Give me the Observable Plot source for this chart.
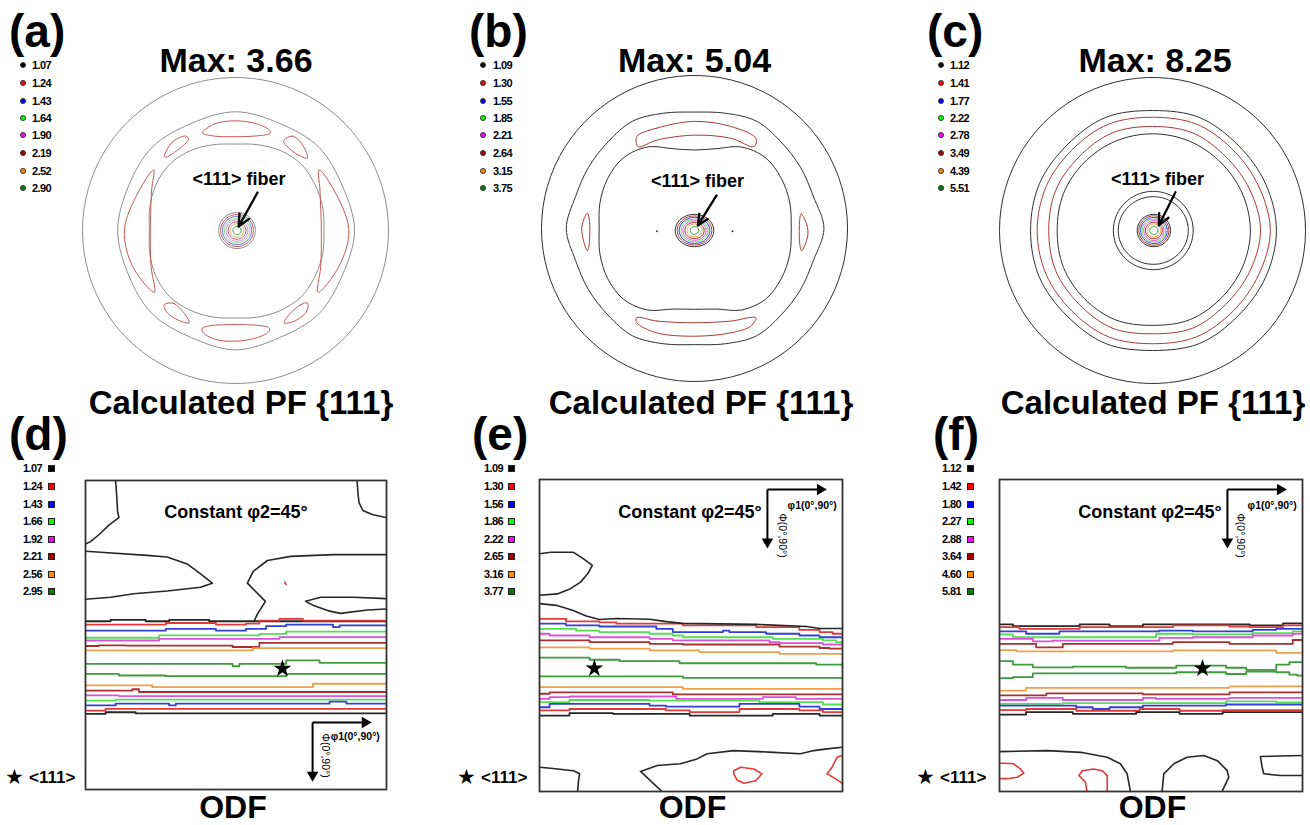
<!DOCTYPE html>
<html><head><meta charset="utf-8">
<script src="https://cdn.jsdelivr.net/npm/d3@7"></script>
<script src="https://cdn.jsdelivr.net/npm/@observablehq/plot@0.6"></script>
<style>
body{margin:0;background:#fff}
#fig{position:relative;width:1310px;height:825px;overflow:hidden;background:#fff}
#fig svg{position:absolute;background:transparent}
</style></head><body><div id="fig"></div>
<script>
// ---------------- DATA ----------------
const PANEL_LETTERS = ["(a)","(b)","(c)","(d)","(e)","(f)"];
const MAX_VALUES = ["3.66","5.04","8.25"];
const PF_TITLE = "Calculated PF {111}";
const ODF_TITLE = "ODF";
const FIBER_LABEL = "<111> fiber";
const SECTION_LABEL = "Constant φ2=45°";
const PHI1_LABEL = "φ1(0°,90°)";
const PHI_LABEL = "Φ(0°,90°)";
const STAR_LABEL = "<111>";
const PF_LEVELS_A = ["1.07","1.24","1.43","1.64","1.90","2.19","2.52","2.90"];
const PF_LEVELS_B = ["1.09","1.30","1.55","1.85","2.21","2.64","3.15","3.75"];
const PF_LEVELS_C = ["1.12","1.41","1.77","2.22","2.78","3.49","4.39","5.51"];
const ODF_LEVELS_D = ["1.07","1.24","1.43","1.66","1.92","2.21","2.56","2.95"];
const ODF_LEVELS_E = ["1.09","1.30","1.56","1.86","2.22","2.65","3.16","3.77"];
const ODF_LEVELS_F = ["1.12","1.42","1.80","2.27","2.88","3.64","4.60","5.81"];
const LEGEND_COLORS = ["#000000","#ff0000","#0000ff","#00ff00","#ff00ff","#a00000","#ff8c00","#008000"];
const LINE_COLORS = ["#262626","#e03a3a","#3040d8","#52e052","#dc50dc","#a83030","#f0a048","#3c9c3c"];
const PF_A_COLORS = ["#8e8e8e","#c45858","#6a74d8","#80e080","#df86df","#b06060","#e0b070","#3c9c3c"];
const PF_BC_COLORS = ["#303030","#a83a3a","#3040d8","#52e052","#dc50dc","#a83030","#f0a048","#3c9c3c"];

// Pole figures: contour radii (unit = projection radius), angles evenly spaced from east, counter-clockwise
const PF_A_OUTER = [0.778,0.757,0.77,0.757,0.776,0.757,0.77,0.757,0.77,0.757,0.77,0.757,0.78,0.757,0.77,0.757];
const PF_A_INNER = [0.578,0.59,0.60,0.61,0.60,0.58,0.565,0.58,0.60,0.61,0.60,0.58,0.563,0.58,0.60,0.61,0.60,0.585,0.572,0.585,0.60,0.61,0.60,0.59];
const PF_A_ISLANDS = [
  [[-0.215,0.643],[-0.139,0.696],[-0.009,0.717],[0.143,0.696],[0.226,0.652],[0.226,0.635],[0.122,0.617],[-0.009,0.613],[-0.139,0.617],[-0.215,0.635]],
  [[-0.215,-0.637],[-0.009,-0.615],[0.22,-0.637],[0.22,-0.659],[0.143,-0.70],[-0.009,-0.724],[-0.139,-0.709],[-0.215,-0.663]],
  [[-0.535,0.396],[-0.639,0.243],[-0.726,0.004],[-0.672,-0.235],[-0.530,-0.404],[-0.552,-0.235],[-0.557,0.004],[-0.548,0.265]],
  [[0.546,0.396],[0.643,0.265],[0.741,0.004],[0.676,-0.235],[0.539,-0.404],[0.557,-0.235],[0.561,0.004],[0.552,0.265]],
  [[-0.465,0.483],[-0.411,0.580],[-0.324,0.617],[-0.307,0.596],[-0.378,0.526],[-0.457,0.478]],
  [[0.317,0.591],[0.372,0.617],[0.437,0.561],[0.470,0.474],[0.426,0.485],[0.361,0.528],[0.317,0.574]],
  [[-0.465,-0.485],[-0.411,-0.474],[-0.346,-0.528],[-0.302,-0.604],[-0.357,-0.593],[-0.433,-0.550],[-0.465,-0.507]],
  [[0.470,-0.474],[0.426,-0.485],[0.361,-0.539],[0.317,-0.604],[0.383,-0.593],[0.448,-0.550],[0.470,-0.517]]
];
const PF_A_BLOB = [[0.12,0.118],[0.107,0.105],[0.095,0.093],[0.083,0.081],[0.071,0.07],[0.058,0.057],[0.045,0.044],[0.027,0.026]];

const PF_B_OUTER = [0.846,0.805,0.80,0.80,0.81,0.78,0.761,0.78,0.81,0.80,0.80,0.805,0.838,0.805,0.80,0.80,0.81,0.78,0.759,0.78,0.81,0.80,0.80,0.805];
const PF_B_INNER = [0.632,0.645,0.655,0.655,0.615,0.54,0.513,0.54,0.615,0.655,0.655,0.64,0.623,0.64,0.655,0.655,0.615,0.545,0.528,0.545,0.615,0.655,0.655,0.645];
const PF_B_ISLANDS = [
  [[-0.377,0.601],[-0.246,0.656],[0,0.70],[0.237,0.667],[0.401,0.590],[0.390,0.535],[0.237,0.590],[0,0.610],[-0.246,0.578],[-0.368,0.535]],
  [[-0.377,-0.583],[-0.246,-0.605],[0,-0.616],[0.237,-0.605],[0.401,-0.583],[0.368,-0.638],[0.237,-0.682],[0,-0.704],[-0.246,-0.682],[-0.377,-0.616]],
  [[-0.70,0.10],[-0.735,0.02],[-0.73,-0.06],[-0.70,-0.145],[-0.688,-0.10],[-0.688,0.06]],
  [[0.697,0.096],[0.735,0.02],[0.74,-0.05],[0.70,-0.145],[0.688,-0.10],[0.688,0.06]]
];
const PF_B_SPECKS = [[-0.246,-0.018],[0.248,-0.018]];
const PF_B_BLOB = [[0.126,0.106],[0.113,0.095],[0.100,0.085],[0.088,0.074],[0.076,0.064],[0.063,0.053],[0.049,0.042],[0.028,0.025]];

const PF_C_RINGS = [
  {lv:0, r:[0.81,0.80,0.79,0.80,0.784,0.80,0.79,0.80,0.797,0.80,0.79,0.80,0.784,0.80,0.79,0.80]},
  {lv:1, r:[0.77,0.752,0.745,0.752,0.74,0.752,0.745,0.752,0.754,0.752,0.745,0.752,0.74,0.752,0.745,0.752]},
  {lv:1, r:[0.706,0.69,0.68,0.69,0.68,0.69,0.68,0.685,0.678,0.685,0.68,0.69,0.675,0.69,0.68,0.69]},
  {lv:0, r:[0.64,0.635,0.63,0.632,0.632,0.632,0.63,0.63,0.623,0.63,0.63,0.632,0.62,0.632,0.63,0.635]}
];
const PF_C_SMALL = [[0.261,0.256],[0.229,0.221]];
const PF_C_BLOB = [[0.109,0.106],[0.098,0.096],[0.087,0.085],[0.077,0.075],[0.066,0.065],[0.055,0.054],[0.044,0.043],[0.027,0.026]];

// ODF sections: [phi1, Phi] in degrees; step lines hold the value from each phi1 onward
const ODF_D_STEPS = [
  {lv:0, pts:[[0,41.0],[7.5,40.6],[18,41.0],[25,40.6],[37,41.0],[50.4,41.0]]},
  {lv:1, pts:[[0,42.0],[24,41.5],[39,42.0],[48,41.7],[52,40.8],[58,40.3],[65,40.8]]},
  {lv:2, pts:[[0,43.7],[24,43.2],[39,43.7],[48,43.2],[54,42.4],[60,42.0],[74,42.7],[76,42.2]]},
  {lv:3, pts:[[0,45.8],[22,45.1],[52,44.7],[60,44.0]]},
  {lv:4, pts:[[0,46.6],[22,46.1],[58,45.6]]},
  {lv:5, pts:[[0,48.2],[4,48.0],[12,48.1],[44,48.5],[52,47.3]]},
  {lv:6, pts:[[0,49.5],[50,48.8]]},
  {lv:7, pts:[[0,53.4],[44,54.1],[46,53.4],[60,52.4],[70,53.1]]},
  {lv:7, pts:[[0,56.3],[10,56.8],[24,57.0],[60,56.3]]},
  {lv:6, pts:[[0,59.7],[20,60.2],[68,59.2]]},
  {lv:5, pts:[[0,61.2],[14,60.8],[16,61.6]]},
  {lv:4, pts:[[0,62.6],[10,62.8]]},
  {lv:3, pts:[[0,64.1],[9,63.8]]},
  {lv:2, pts:[[0,65.5],[9,65.0],[25,65.5],[27,65.0],[73,64.4],[78,65.0]]},
  {lv:1, pts:[[0,67.0],[6,66.5]]},
  {lv:0, pts:[[0,68.0],[6,67.5],[15,67.8]]}
];
const ODF_D_PATHS = [
  {lv:0, pts:[[50.4,41.0],[51.4,38.9],[53.8,35.2],[48.4,29.9],[50.2,26.4],[54.4,23.3],[61.3,22.1],[74.2,21.6],[90,21.6]]},
  {lv:0, pts:[[0,20.6],[4.5,20.9],[18.4,21.8],[24.4,22.3],[30.4,24.3],[34.4,27.2],[37.9,29.9],[34.4,31.1],[24.4,32.2],[14.4,33.0],[7.5,34.0],[0,34.6]]},
  {lv:0, pts:[[90,34.4],[80.1,34.0],[70.3,34.0],[65.8,35.2],[68.2,36.4],[72.4,37.9],[76.2,38.7],[84.3,37.7],[90,37.4]]},
  {lv:0, pts:[[9.0,0],[9.3,4],[9.6,9],[10,10.8],[7,13],[4,15.8],[1.5,17.8],[0,18.5]]},
  {lv:0, pts:[[81.2,0],[81.5,4],[81.8,6.5],[83,8.8],[86,10],[90,10.8]]},
  {lv:1, pts:[[59.6,29.6],[60.0,30.3]]}
];
const ODF_D_STAR = [58.9,54.8];

const ODF_E_STEPS = [
  {lv:1, pts:[[0,40.2],[7.9,40.9],[17.8,41.2],[22.8,41.6],[42.6,42.1],[64.4,42.6],[77.2,43.4],[83.2,44.0],[87.1,44.5]]},
  {lv:2, pts:[[0,41.6],[7.9,42.1],[17.8,42.4],[34.7,43.1],[39.6,44.0],[54.5,43.6],[56.4,44.0],[67.3,44.5],[77.2,45.0],[83.2,45.5]]},
  {lv:3, pts:[[0,43.1],[10.9,43.6],[17.8,44.0],[32.7,44.5],[39.6,45.0],[42.6,45.5],[69.3,46.0],[84.2,46.4],[88.1,46.9]]},
  {lv:4, pts:[[0,44.5],[3,45.0],[14.9,45.5],[32.7,46.0],[39.6,46.4],[68.3,46.9],[71.3,47.2],[84.2,47.6]]},
  {lv:5, pts:[[0,46.4],[14.9,46.9],[32.7,47.4],[42.6,47.6],[71.3,48.2],[83.2,48.6],[86.1,48.8]]},
  {lv:6, pts:[[0,48.4],[14.9,48.8],[32.7,49.3],[47.5,49.8],[71.3,50.3]]},
  {lv:7, pts:[[0,51.4],[14.9,52.0],[23.8,52.4],[41.6,53.0],[82.2,53.4]]},
  {lv:7, pts:[[0,56.8],[42.6,57.2]]},
  {lv:6, pts:[[0,59.9],[42.6,60.4]]},
  {lv:5, pts:[[0,61.8],[3,61.4],[39.6,62.0]]},
  {lv:4, pts:[[0,63.3],[3,62.8],[8.9,62.6],[40.6,63.3],[66.3,62.8],[76.2,63.3]]},
  {lv:3, pts:[[0,64.2],[8.9,63.6],[32.7,63.8],[65.3,64.2],[84.2,64.9]]},
  {lv:2, pts:[[0,65.7],[3,64.7],[32.7,65.2],[37.6,65.5],[59.4,64.7],[77.2,65.5],[83.2,66.2]]},
  {lv:1, pts:[[0,66.6],[8.9,66.2],[37.6,66.6],[44.6,67.1],[59.4,66.2],[77.2,66.6],[84.2,67.1]]},
  {lv:0, pts:[[0,68.1],[8.9,67.4],[21.8,67.6],[44.6,68.1],[69.3,67.6],[83.2,68.1]]}
];
const ODF_E_PATHS = [
  {lv:0, pts:[[0,35.8],[5,36.3],[9.8,37.7],[13.9,39.4],[17.8,40.4],[22.9,40.1],[32.7,40.3],[37.7,41.0],[42.5,41.5],[64.4,41.8],[79.3,42.4],[83.2,43.0],[90,43.0]]},
  {lv:0, pts:[[0,21.4],[3.3,21.0],[10.1,21.0],[13.1,22.9],[15.7,24.8],[14.3,27.2],[12.2,29.6],[9.2,31.5],[5.3,33.0],[0,33.4]]},
  {lv:0, pts:[[0,83.0],[3.3,83.3],[10.1,84.0],[11.9,84.9],[11.6,86.9],[11.3,90]]},
  {lv:0, pts:[[36.4,90],[30.0,84.2],[35.0,82.5],[41.9,82.0],[46.8,80.6],[49.8,79.1],[57.7,78.2],[69.6,78.7],[77.5,79.1],[81.5,78.2],[85.4,77.7],[90,77.2]]},
  {lv:1, pts:[[57.7,84.0],[59.7,83.0],[63.7,83.5],[66.1,84.9],[64.2,86.9],[60.7,87.6],[58.7,86.7],[57.7,84.9],[57.7,84.0]]},
  {lv:1, pts:[[90,79.6],[88.4,80.1],[86.9,83.0],[85.4,84.9],[87.9,86.3],[89.4,87.3],[90,87.8]]}
];
const ODF_E_STAR = [16.3,54.5];

const ODF_F_STEPS = [
  {lv:0, pts:[[0,41.8],[4,42.3],[23.8,41.8],[32.7,42.3],[42.6,41.8],[74.3,42.1],[84.2,41.5]]},
  {lv:1, pts:[[0,42.6],[5.9,43.1],[23.8,42.6],[51.5,42.1],[68.3,42.4],[74.3,42.6],[84.2,42.1]]},
  {lv:2, pts:[[0,43.8],[7.9,44.5],[17.8,43.8],[47.5,43.6],[57.4,43.8],[75.2,43.4],[82.2,43.1]]},
  {lv:3, pts:[[0,44.7],[4,45.5],[46.5,44.5],[57.4,44.7],[75.2,44.3],[87.1,43.8]]},
  {lv:4, pts:[[0,46.0],[9.9,46.7],[15.8,46.5],[47.5,45.7],[57.4,45.5],[75.2,45.0],[87.1,44.5]]},
  {lv:5, pts:[[0,47.4],[10.9,48.4],[18.8,47.4],[51.5,46.9],[68.3,47.4],[87.1,46.3]]},
  {lv:6, pts:[[0,49.2],[5,49.6],[51.5,49.3],[82.2,50.0]]},
  {lv:7, pts:[[0,52.4],[4,53.4],[9.9,54.2],[21.8,54.0],[37.6,54.3],[52.5,53.7],[67.3,54.3],[73.3,54.9],[82.2,53.4],[86.1,52.7]]},
  {lv:7, pts:[[0,57.3],[4,57.0],[9.9,55.9],[52.5,55.6],[67.3,56.1],[73.3,55.4],[82.2,55.6],[86.1,56.3],[88.5,56.6]]},
  {lv:6, pts:[[0,60.9],[7.9,60.1],[68.3,59.7]]},
  {lv:5, pts:[[0,62.3],[13.9,61.7],[42.6,62.0],[68.3,61.4]]},
  {lv:4, pts:[[0,63.6],[7.9,63.0],[18.8,63.6],[42.6,63.0],[46.5,63.3],[68.3,63.0]]},
  {lv:3, pts:[[0,64.7],[18.8,64.5],[67.3,64.0],[82.2,64.3]]},
  {lv:2, pts:[[0,65.2],[22.8,65.7],[27.7,66.2],[32.7,65.7],[42.6,65.2],[67.3,64.9]]},
  {lv:1, pts:[[0,66.5],[7.9,66.2],[22.8,66.7],[41.6,66.2],[53.5,66.7],[66.3,66.5]]},
  {lv:0, pts:[[0,67.8],[7.9,67.1],[21.8,67.6],[40.6,67.1],[53.5,67.6],[66.3,67.1]]}
];
const ODF_F_PATHS = [
  {lv:0, pts:[[0,78.5],[14.2,78.2],[24.1,78.7],[32.0,80.1],[35.9,82.0],[37.9,84.9],[38.9,90]]},
  {lv:1, pts:[[0,81.8],[4.2,82.0],[6.2,83.5],[7.2,84.7],[5.3,85.9],[2.3,86.3],[0,86.3]]},
  {lv:1, pts:[[26,90],[25.5,87.3],[23.6,85.4],[24.6,84.0],[28.0,83.5],[30.5,84.0],[32.0,85.4],[32.0,90]]},
  {lv:0, pts:[[48.3,90],[48.8,84.9],[51.8,82.0],[55.7,80.1],[60.7,79.6],[64.7,81.1],[67.6,83.9],[68.1,85.9],[66.1,90]]},
  {lv:0, pts:[[90,79.6],[77.5,79.9],[78.0,83.0],[78.5,84.9],[83.5,85.4],[90,85.4]]}
];
const ODF_F_STAR = [60.3,54.5];

// ---------------- LAYOUT ----------------
const W = 1310;
const FONT = '"Liberation Sans", Arial, Helvetica, sans-serif';
const fig = document.getElementById("fig");

function txt(s, x, base, size, anchor = "start", opt = {}) {
  const d = document.createElement("div");
  d.textContent = s;
  Object.assign(d.style, {position:"absolute", whiteSpace:"nowrap", fontSize:size+"px", lineHeight:"1",
    fontWeight: opt.weight || "bold", fontFamily: opt.family || FONT, color:"#000",
    letterSpacing: opt.ls || "normal", top:(base - (opt.asc || 0.8465) * size) + "px"});
  if (anchor === "start") d.style.left = x + "px";
  else if (anchor === "middle") { d.style.left = x + "px"; d.style.transform = "translateX(-50%)"; }
  else d.style.right = (W - x) + "px";
  fig.appendChild(d);
}
function box(x, y, w, h, fill, border, radius) {
  const d = document.createElement("div");
  Object.assign(d.style, {position:"absolute", left:x+"px", top:y+"px", width:w+"px", height:h+"px",
    background:fill, border:`1px solid ${border}`, borderRadius:radius || "0", boxSizing:"border-box"});
  fig.appendChild(d);
}
function put(svg, left, top) { svg.style.left = left + "px"; svg.style.top = top + "px"; fig.appendChild(svg); }

const ring = (radii, c = [0,0]) => radii.map((r, i) => { const a = i * 2 * Math.PI / radii.length; return [c[0] + r*Math.cos(a), c[1] + r*Math.sin(a)]; });
const ellipse = ([rx, ry], c = [0,0], step = 10) => d3.range(0, 360, step).map(t => [c[0] + rx*Math.cos(t*Math.PI/180), c[1] + ry*Math.sin(t*Math.PI/180)]);
const X = d => d[0], Y = d => d[1];

function pfPlot(p) {
  const D = 165 / 153, col = p.colors;
  const marks = [
    Plot.line(ellipse([1,1],[0,0],4), {x:X, y:Y, curve:"linear-closed", stroke:col[0], strokeWidth:1}),
    ...p.rings.map(b => Plot.line(ring(b.r, b.c), {x:X, y:Y, curve:"catmull-rom-closed", stroke:col[b.lv], strokeWidth:1})),
    ...p.ellipses.map(e => Plot.line(ellipse(e.r, e.c), {x:X, y:Y, curve:"catmull-rom-closed", stroke:col[e.lv], strokeWidth:1})),
    ...p.islands.map(is => Plot.line(is, {x:X, y:Y, curve:"catmull-rom-closed", stroke:col[1], strokeWidth:1})),
    ...p.blob.map((r, i) => Plot.line(ellipse(r, p.blobC), {x:X, y:Y, curve:"catmull-rom-closed", stroke:col[i], strokeWidth:1})),
    Plot.dot(p.specks || [], {x:X, y:Y, r:0.9, fill:col[0], stroke:null}),
    Plot.text([p.label], {x:"x", y:"y", text:"t", fontSize:18, fontWeight:"bold", fontFamily:FONT, fill:"black"}),
    Plot.arrow([p.arrow], {x1:"x1", y1:"y1", x2:"x2", y2:"y2", stroke:"black", strokeWidth:2.3, headLength:10, headAngle:50})
  ];
  return Plot.plot({width:330, height:330, margin:0, x:{domain:[-D,D], axis:null}, y:{domain:[-D,D], axis:null},
    style:{background:"transparent", overflow:"visible"}, marks});
}

function odfPlot(o) {
  const closeStep = pts => pts[pts.length-1][0] < 90 ? [...pts, [90, pts[pts.length-1][1]]] : pts;
  const ax = o.axes;
  const marks = [
    ...o.steps.map(s => Plot.line(closeStep(s.pts), {x:X, y:Y, curve:"step-after", stroke:LINE_COLORS[s.lv], strokeWidth:1.8, clip:true})),
    ...o.paths.map(s => Plot.line(s.pts, {x:X, y:Y, stroke:LINE_COLORS[s.lv], strokeWidth:1.6, clip:true})),
    Plot.frame({stroke:"#333", strokeWidth:1.8}),
    Plot.text([o.section], {x:"x", y:"y", text:"t", fontSize:18, fontWeight:"bold", fontFamily:FONT, fill:"black"}),
    Plot.link([{x1:ax.x, y1:ax.y, x2:ax.xEnd - 2, y2:ax.y}, {x1:ax.x, y1:ax.y, x2:ax.x, y2:ax.yEnd - 2}],
      {x1:"x1", y1:"y1", x2:"x2", y2:"y2", stroke:"black", strokeWidth:2}),
    Plot.dot([{x:ax.xEnd - 1.6, y:ax.y, a:90}, {x:ax.x, y:ax.yEnd - 1.6, a:180}],
      {x:"x", y:"y", rotate:"a", symbol:"triangle2", r:5.5, fill:"black", stroke:null}),
    Plot.text([{t:PHI1_LABEL, x:ax.t1x, y:ax.t1y}], {x:"x", y:"y", text:"t", fontSize:10.5, fontWeight:"bold", fontFamily:FONT, textAnchor:"start", fill:"black"}),
    Plot.text([{t:PHI_LABEL, x:ax.t2x, y:ax.t2y}], {x:"x", y:"y", text:"t", fontSize:10.5, fontFamily:FONT, textAnchor:"start", rotate:90, fill:"black"}),
    Plot.dot([o.star], {x:X, y:Y, symbol:"star", r:5.6, fill:"black", stroke:null})
  ];
  return Plot.plot({width:o.w, height:o.h, margin:1, x:{domain:[0,90], axis:null}, y:{domain:[0,90], reverse:true, axis:null},
    style:{background:"transparent", overflow:"visible"}, marks});
}

// ---- pole figures ----
const pfs = [
  {cx:235, cy:230, colors:PF_A_COLORS, levels:PF_LEVELS_A,
   rings:[{lv:0, r:PF_A_OUTER}, {lv:0, r:PF_A_INNER}], ellipses:[], islands:PF_A_ISLANDS,
   blob:PF_A_BLOB, blobC:[0.01,0],
   label:{t:FIBER_LABEL, x:0.023, y:0.332}, arrow:{x1:0.144, y1:0.248, x2:0.02, y2:0.026}},
  {cx:694, cy:228, colors:PF_BC_COLORS, levels:PF_LEVELS_B,
   rings:[{lv:0, r:PF_B_OUTER}, {lv:0, r:PF_B_INNER}], ellipses:[], islands:PF_B_ISLANDS, specks:PF_B_SPECKS,
   blob:PF_B_BLOB, blobC:[0,-0.013],
   label:{t:FIBER_LABEL, x:0.02, y:0.306}, arrow:{x1:0.144, y1:0.216, x2:0.022, y2:0.02}},
  {cx:1152, cy:230, colors:PF_BC_COLORS, levels:PF_LEVELS_C,
   rings:PF_C_RINGS, ellipses:PF_C_SMALL.map(r => ({lv:0, r, c:[0.005,0]})), islands:[],
   blob:PF_C_BLOB, blobC:[0.009,0],
   label:{t:FIBER_LABEL, x:0.033, y:0.332}, arrow:{x1:0.15, y1:0.25, x2:0.041, y2:0.033}}
];
const pfLayout = [
  {letterX:9, maxX:236, titleX:241, dotX:22.7, labX:32},
  {letterX:469, maxX:694.5, titleX:701, dotX:483, labX:493},
  {letterX:927, maxX:1155, titleX:1153, dotX:941, labX:950}
];
const PF_ROWS = [65,83,101,118,135,153,171,188];
pfs.forEach((p, k) => {
  put(pfPlot(p), p.cx - 165, p.cy - 165);
  const L = pfLayout[k];
  txt(PANEL_LETTERS[k], L.letterX, 47, 46);
  txt("Max: " + MAX_VALUES[k], L.maxX, 72, 34, "middle");
  txt(PF_TITLE, L.titleX, 414, 33, "middle");
  p.levels.forEach((v, i) => {
    box(L.dotX - 3, PF_ROWS[i] - 3, 6, 6, LEGEND_COLORS[i], "#333", "50%");
    txt(v, L.labX, PF_ROWS[i] + 4, 11, "start", {ls:"-0.6px"});
  });
});

// ---- ODF sections ----
const odfs = [
  {left:84, top:479, w:303, h:311, steps:ODF_D_STEPS, paths:ODF_D_PATHS, star:ODF_D_STAR, levels:ODF_LEVELS_D,
   section:{t:SECTION_LABEL, x:45, y:9.1},
   axes:{x:67.9, y:70.5, xEnd:85.2, yEnd:87.4, t1x:73.3, t1y:74.7, t2x:71.8, t2y:73.7}},
  {left:538, top:478, w:305, h:314, steps:ODF_E_STEPS, paths:ODF_E_PATHS, star:ODF_E_STAR, levels:ODF_LEVELS_E,
   section:{t:SECTION_LABEL, x:44.7, y:9.3},
   axes:{x:67.7, y:2.9, xEnd:85, yEnd:19.6, t1x:73.7, t1y:7.4, t2x:72.2, t2y:9.8}},
  {left:998, top:478, w:305, h:314, steps:ODF_F_STEPS, paths:ODF_F_PATHS, star:ODF_F_STAR, levels:ODF_LEVELS_F,
   section:{t:SECTION_LABEL, x:44.7, y:9.3},
   axes:{x:67.7, y:2.9, xEnd:85, yEnd:19.6, t1x:73.7, t1y:7.4, t2x:71.6, t2y:9.8}}
];
const odfLayout = [
  {letterX:9, titleX:233, labR:42, sqX:48, starX:15, starT:29},
  {letterX:472, titleX:692.5, labR:503, sqX:508, starX:467, starT:481},
  {letterX:933, titleX:1152.5, labR:961, sqX:967, starX:926, starT:940}
];
const ODF_ROWS = [468,486,504,521,539,556,574,591];
odfs.forEach((o, k) => {
  put(odfPlot(o), o.left, o.top);
  const L = odfLayout[k];
  txt(PANEL_LETTERS[3 + k], L.letterX, 450, 46);
  txt(ODF_TITLE, L.titleX, 818, 32, "middle");
  o.levels.forEach((v, i) => {
    txt(v, L.labR, ODF_ROWS[i] + 4, 11, "end", {ls:"-0.6px"});
    box(L.sqX, ODF_ROWS[i] - 3, 7, 7, LEGEND_COLORS[i], "#222");
  });
  txt("★", L.starX - 10, 785, 21, "start", {family:'"DejaVu Sans", sans-serif', weight:"normal", asc:0.87});
  txt(STAR_LABEL, L.starT, 783, 17);
});
</script></body></html>
